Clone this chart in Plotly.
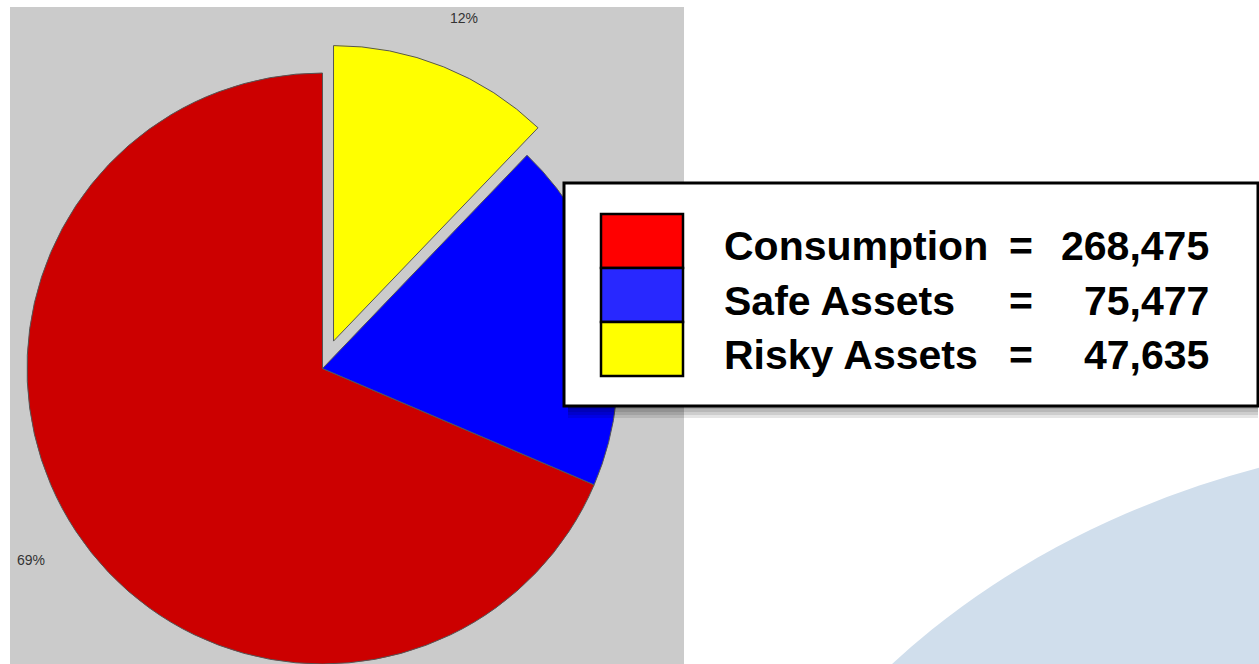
import math
import plotly.graph_objects as go

# ---------------- data ----------------
categories = ["Consumption", "Safe Assets", "Risky Assets"]
values = [268475, 75477, 47635]
pie_colors = ["#CC0000", "#0000FF", "#FFFF00"]
legend_colors = ["#FF0000", "#2828FF", "#FFFF00"]
pulled = [False, False, True]

# ---------------- layout helpers ----------------
W, H = 1259, 664


def px(x):
    return x / W


def py(y):
    return 1 - y / H


CX, CY, R = 322.5, 368.5, 295.5   # pie centre / radius in pixels
PULL = 0.1                        # pull of exploded slice (fraction of radius)
LABEL_R = 1.18                    # radial position of percent labels
BOX = (564, 183, 1258, 406)       # legend box (x0, y0, x1, y1) in pixels
TRANSPARENT = "rgba(0,0,0,0)"
OUTLINE = "#555555"

total = sum(values)
fracs = [v / total for v in values]
mids = []
cum = 0.0
for f in fracs:
    a0 = 90 + 360 * cum
    cum += f
    a1 = 90 + 360 * cum
    mids.append(math.radians((a0 + a1) / 2))

# plotly's counterclockwise pie ends the first slice at `rotation`;
# rotate so the first slice starts at 12 o'clock instead
ROTATION = 360 * (1 - fracs[0])


def clamp(v):
    return min(1.0, max(0.0, v))


def domain_for(cx, cy):
    return dict(x=[clamp(px(cx - R)), clamp(px(cx + R))],
                y=[clamp(py(cy + R)), clamp(py(cy - R))])


fig = go.Figure()

# one pie trace for the slices in place, one for the exploded slice(s)
for group in (False, True):
    offs_x = offs_y = 0.0
    for i, p in enumerate(pulled):
        if p and group:
            offs_x = PULL * R * math.cos(mids[i])
            offs_y = -PULL * R * math.sin(mids[i])
    cols = [c if pulled[i] == group else TRANSPARENT for i, c in enumerate(pie_colors)]
    lcols = [OUTLINE if pulled[i] == group else TRANSPARENT for i in range(len(values))]
    lw = [1 if pulled[i] == group else 0 for i in range(len(values))]
    fig.add_trace(go.Pie(
        labels=categories, values=values, sort=False,
        direction="counterclockwise", rotation=ROTATION,
        marker=dict(colors=cols, line=dict(color=lcols, width=lw)),
        textinfo="none", hoverinfo="skip", showlegend=False,
        domain=domain_for(CX + offs_x, CY + offs_y),
    ))

shapes = []
# grey plot panel
shapes.append(dict(type="rect", xref="paper", yref="paper", layer="below",
                   x0=px(10), x1=px(684), y0=py(664), y1=py(7),
                   fillcolor="#CBCBCB", line=dict(width=0)))
# light blue decorative ellipse
shapes.append(dict(type="circle", xref="paper", yref="paper", layer="below",
                   x0=px(1515 - 825), x1=px(1515 + 825),
                   y0=py(1100 + 665), y1=py(1100 - 665),
                   fillcolor="#D0DEEC", line=dict(width=0)))

# legend box shadow
bx0, by0, bx1, by1 = BOX
for k in range(1, 5):
    shapes.append(dict(type="rect", xref="paper", yref="paper", layer="above",
                       x0=px(bx0 + 4), x1=px(bx1), y0=py(by1 + 3 * k), y1=py(by1),
                       fillcolor="rgba(0,0,0,0.10)", line=dict(width=0)))
# legend box
shapes.append(dict(type="rect", xref="paper", yref="paper", layer="above",
                   x0=px(bx0), x1=px(bx1), y0=py(by1), y1=py(by0),
                   fillcolor="white", line=dict(color="black", width=3)))

annotations = []
SW_X0, SW_X1, SW_Y0, SW_H = 601, 683, 214, 54
TEXT_Y0, TEXT_DY = 246, 54.5
font_big = dict(family="Liberation Sans, Arial", size=41, color="black", weight="bold")
for i, (name, val, col) in enumerate(zip(categories, values, legend_colors)):
    shapes.append(dict(type="rect", xref="paper", yref="paper", layer="above",
                       x0=px(SW_X0), x1=px(SW_X1),
                       y0=py(SW_Y0 + (i + 1) * SW_H), y1=py(SW_Y0 + i * SW_H),
                       fillcolor=col, line=dict(color="black", width=2.5)))
    ty = py(TEXT_Y0 + i * TEXT_DY)
    annotations.append(dict(text=name, x=px(722), y=ty, xref="paper", yref="paper",
                            xanchor="left", yanchor="middle", showarrow=False, font=font_big))
    annotations.append(dict(text="=", x=px(1021), y=ty, xref="paper", yref="paper",
                            xanchor="center", yanchor="middle", showarrow=False, font=font_big))
    annotations.append(dict(text=f"{val:,}", x=px(1211), y=ty, xref="paper", yref="paper",
                            xanchor="right", yanchor="middle", showarrow=False, font=font_big))

# percent labels around the pie
for i, f in enumerate(fracs):
    cx, cy = CX, CY
    if pulled[i]:
        cx += PULL * R * math.cos(mids[i])
        cy -= PULL * R * math.sin(mids[i])
    lx = cx + LABEL_R * R * math.cos(mids[i])
    ly = cy - LABEL_R * R * math.sin(mids[i])
    if bx0 <= lx <= bx1 and by0 <= ly <= by1:
        continue  # hidden behind the legend box
    annotations.append(dict(text=f"{round(f * 100)}%", x=px(lx), y=py(ly),
                            xref="paper", yref="paper", xanchor="center", yanchor="middle",
                            showarrow=False,
                            font=dict(family="Liberation Sans, Arial", size=14, color="#333333")))

fig.update_layout(
    width=W, height=H,
    margin=dict(l=0, r=0, t=0, b=0),
    paper_bgcolor="white", plot_bgcolor="white",
    shapes=shapes, annotations=annotations,
    showlegend=False,
)

fig.write_html("out.html")
